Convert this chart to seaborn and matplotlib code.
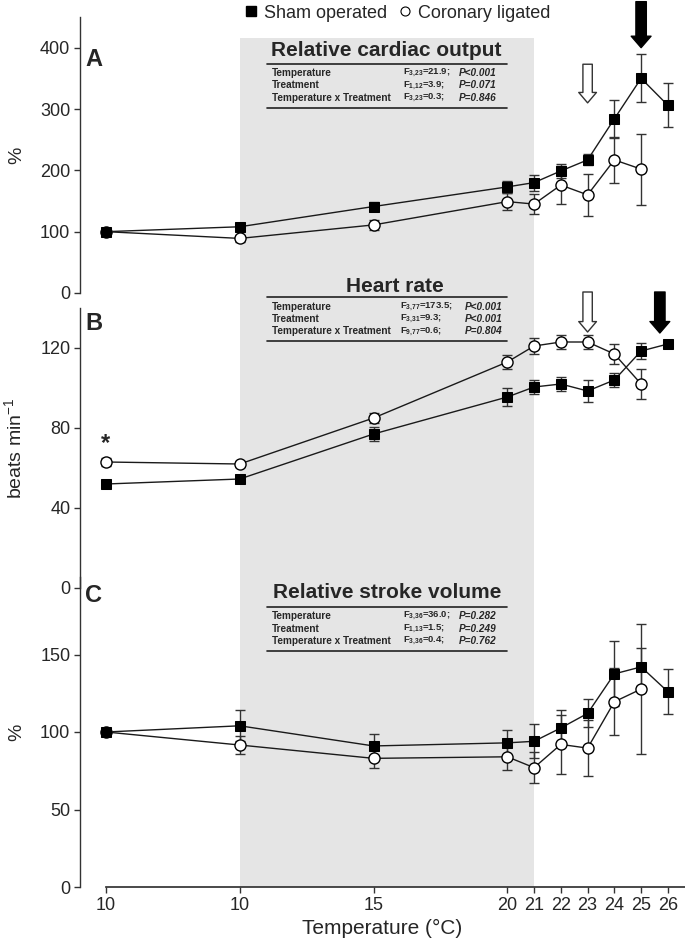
import numpy as np
import pandas as pd
import seaborn as sns
import matplotlib.pyplot as plt
from matplotlib.lines import Line2D
from matplotlib.patches import Rectangle
from matplotlib.transforms import blended_transform_factory

sns.set_theme(style='white')
plt.rcParams['font.family'] = ['Liberation Sans', 'DejaVu Sans']
plt.rcParams['mathtext.default'] = 'regular'

# x positions (acclimation point, then 10..26 degC) and their labels
x_pos = [0, 5, 10, 15, 16, 17, 18, 19, 20, 21]
x_labels = ['10', '10', '15', '20', '21', '22', '23', '24', '25', '26']

# A: relative cardiac output (%)
co_sham = [100, 108, 141, 173, 180, 199, 217, 284, 350, 306]
co_sham_err = [0, 5, 8, 10, 13, 11, 9, 31, 39, 36]
co_lig = [100, 89, 111, 149, 145, 176, 160, 217, 202]
co_lig_err = [0, 6, 8, 14, 17, 31, 34, 37, 58]

# B: heart rate (beats min-1)
hr_sham = [52, 54.5, 77, 95.5, 100.5, 102, 98.5, 104, 118.5, 122]
hr_sham_err = [1, 1, 3.5, 4.5, 3.7, 3.7, 5.5, 3.3, 4, 2]
hr_lig = [63, 62, 85, 113, 121, 123, 123, 117, 102]
hr_lig_err = [2, 1.5, 2.5, 3.5, 4, 3.7, 3.3, 5, 7.5]

# C: relative stroke volume (%)
sv_sham = [100, 104, 91, 93, 94, 102.6, 112, 137.5, 142, 126]
sv_sham_err = [0, 10, 8, 8.5, 11, 11.4, 9, 21, 12, 14.6]
sv_lig = [100, 91.6, 83, 84, 77, 92, 89.6, 119.5, 127.7]
sv_lig_err = [0, 6, 6, 8.5, 10, 19, 18, 21.5, 42]

stats_co = [('Temperature', 'F$_{3{,}23}$=21.9;', 'P<0.001'),
            ('Treatment', 'F$_{1{,}12}$=3.9;', 'P=0.071'),
            ('Temperature x Treatment', 'F$_{3{,}23}$=0.3;', 'P=0.846')]
stats_hr = [('Temperature', 'F$_{3{,}77}$=173.5;', 'P<0.001'),
            ('Treatment', 'F$_{3{,}31}$=9.3;', 'P<0.001'),
            ('Temperature x Treatment', 'F$_{9{,}77}$=0.6;', 'P=0.804')]
stats_sv = [('Temperature', 'F$_{3{,}36}$=36.0;', 'P=0.282'),
            ('Treatment', 'F$_{1{,}13}$=1.5;', 'P=0.249'),
            ('Temperature x Treatment', 'F$_{3{,}36}$=0.4;', 'P=0.762')]

W, H = 685, 940
fig = plt.figure(figsize=(W / 100, H / 100), dpi=100)


def fx(px):
    return px / W


def fy(py):
    return 1 - py / H


left, width = fx(80), 1 - fx(80)
axA = fig.add_axes([left, fy(293), width, (293 - 17) / H])
axB = fig.add_axes([left, fy(588), width, (588 - 308) / H])
axC = fig.add_axes([left, fy(887), width, (887 - 577) / H])
xlim = (-0.97, 21.64)

panels = [
    (axA, co_sham, co_sham_err, co_lig, co_lig_err, (0, 450), [0, 100, 200, 300, 400], '%'),
    (axB, hr_sham, hr_sham_err, hr_lig, hr_lig_err, (0, 140), [0, 40, 80, 120], 'beats min$^{-1}$'),
    (axC, sv_sham, sv_sham_err, sv_lig, sv_lig_err, (0, 200), [0, 50, 100, 150], '%'),
]

for ax, sham, sham_e, lig, lig_e, ylim, yticks, ylab in panels:
    ax.set_facecolor('none')
    df_s = pd.DataFrame({'pos': x_pos, 'value': sham})
    df_l = pd.DataFrame({'pos': x_pos[:len(lig)], 'value': lig})
    ax.errorbar(df_l['pos'], df_l['value'], yerr=lig_e, fmt='none',
                ecolor='#333333', elinewidth=1, capsize=3.5, capthick=1, zorder=2)
    ax.errorbar(df_s['pos'], df_s['value'], yerr=sham_e, fmt='none',
                ecolor='#333333', elinewidth=1, capsize=3.5, capthick=1, zorder=2)
    sns.lineplot(data=df_l, x='pos', y='value', ax=ax, color='#1a1a1a', lw=1,
                 marker='o', markersize=8, markerfacecolor='white',
                 markeredgecolor='black', markeredgewidth=1, zorder=3)
    sns.lineplot(data=df_s, x='pos', y='value', ax=ax, color='#1a1a1a', lw=1,
                 marker='s', markersize=7.5, markerfacecolor='black',
                 markeredgecolor='black', zorder=4)
    ax.set_xlim(*xlim)
    ax.set_ylim(*ylim)
    ax.set_yticks(yticks)
    ax.tick_params(axis='y', direction='out', length=4, width=1, labelsize=13,
                   left=True, color='#333333', pad=3)
    ax.set_ylabel(ylab, fontsize=14)
    for s in ['top', 'right']:
        ax.spines[s].set_visible(False)
    ax.spines['left'].set_color('#333333')
    ax.spines['left'].set_linewidth(1)
    ax.set_xlabel('')
    ax.yaxis.set_label_coords(-0.09, 0.5)

for ax in (axA, axB):
    ax.spines['bottom'].set_visible(False)
    ax.set_xticks([])

axC.set_xticks(x_pos)
axC.set_xticklabels(x_labels)
axC.spines['bottom'].set_bounds(0, xlim[1])
axC.spines['bottom'].set_color('#333333')
axC.tick_params(axis='x', direction='out', length=4, width=1, labelsize=13,
                bottom=True, color='#333333', pad=3)
axC.set_xlabel('Temperature (°C)', fontsize=15, labelpad=4)

# grey band for 10-21 degC, continuous through all panels
band = Rectangle((5, fy(887)), 11, fy(38) - fy(887),
                 transform=blended_transform_factory(axC.transData, fig.transFigure),
                 facecolor='#e5e5e5', edgecolor='none', zorder=-5)
fig.patches.append(band)

# panel letters
for lab, py in [('A', 60), ('B', 324), ('C', 595)]:
    fig.text(fx(85), fy(py), lab, fontsize=17, fontweight='bold', va='center', ha='left')

# asterisk
axB.text(0, 72, '*', fontsize=17, ha='center', va='center', fontweight='bold')

# titles and stats tables
tables = [
    ('Relative cardiac output', 386, 50, 64, [73, 85.5, 98], 108, stats_co, 403, 459),
    ('Heart rate', 395, 286, 297, [306.5, 319, 331.5], 341, stats_hr, 400, 465),
    ('Relative stroke volume', 387, 593, 607, [616, 628.5, 641], 651, stats_sv, 403, 459),
]
for title, tx, ty, l1, rows, l2, stats, fxp, pxp in tables:
    fig.text(fx(tx), fy(ty), title, fontsize=15, fontweight='bold', ha='center', va='center')
    for ly in (l1, l2):
        fig.add_artist(Line2D([fx(267), fx(507)], [fy(ly), fy(ly)], color='#222222', lw=1.2))
    for (name, fstat, pval), ry in zip(stats, rows):
        fig.text(fx(272), fy(ry), name, fontsize=7.2, fontweight='bold', va='center')
        fig.text(fx(fxp), fy(ry), fstat, fontsize=6.8, fontweight='bold', va='center')
        fig.text(fx(pxp), fy(ry), pval, fontsize=7.2, fontweight='bold', style='italic', va='center')

# arrows: open = coronary ligated, filled = sham operated
open_style = dict(arrowstyle='simple,head_length=0.5,head_width=0.85,tail_width=0.45',
                  fc='white', ec='#333333', lw=1, mutation_scale=15, shrinkA=0, shrinkB=0)
black_style = dict(arrowstyle='simple,head_length=0.55,head_width=0.95,tail_width=0.5',
                   fc='black', ec='black', lw=1, mutation_scale=15, shrinkA=0, shrinkB=0)
axA.annotate('', xy=(18, 310), xytext=(18, 373), arrowprops=open_style, annotation_clip=False)
axA.annotate('', xy=(20, 400), xytext=(20, 475), arrowprops=black_style, annotation_clip=False)
axB.annotate('', xy=(18, 128), xytext=(18, 148), arrowprops=open_style, annotation_clip=False)
axB.annotate('', xy=(20.7, 127.5), xytext=(20.7, 148), arrowprops=black_style, annotation_clip=False)

# legend at top
handles = [Line2D([], [], ls='none', marker='s', ms=7, mfc='black', mec='black'),
           Line2D([], [], ls='none', marker='o', ms=6.5, mfc='white', mec='black', mew=0.8)]
fig.legend(handles, ['Sham operated', 'Coronary ligated'], loc='center',
           bbox_to_anchor=(fx(396), fy(13)), ncol=2, frameon=False, fontsize=13,
           handletextpad=0.2, columnspacing=0.5, handlelength=1.0, borderpad=0)

fig.savefig('out.png', dpi=100)
